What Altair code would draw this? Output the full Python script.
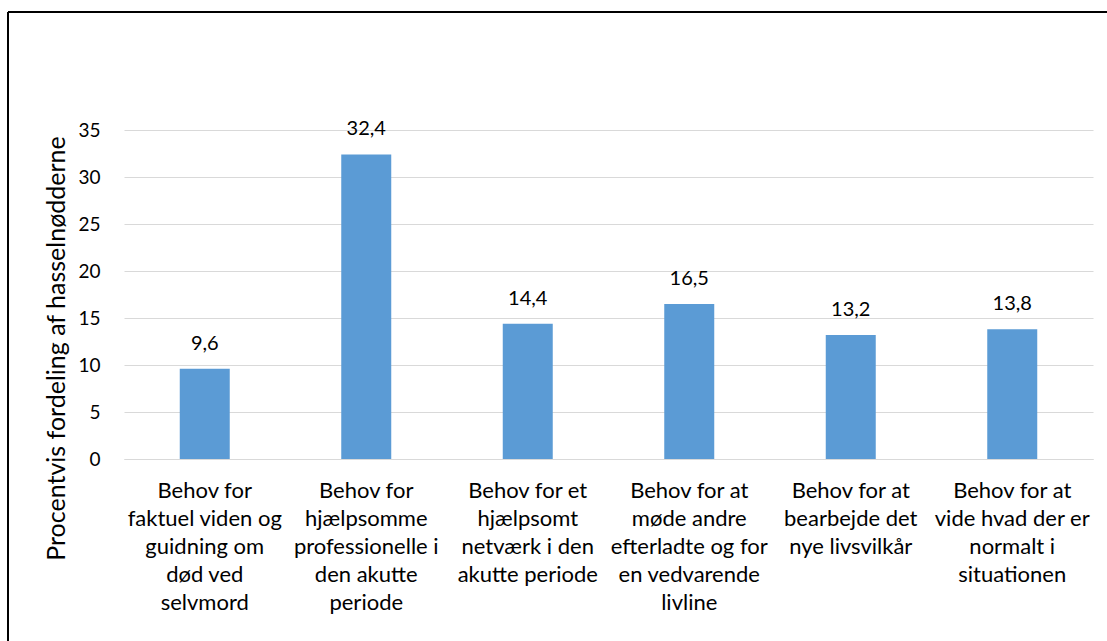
import altair as alt
import pandas as pd

categories = [
    "Behov for\nfaktuel viden og\nguidning om\ndød ved\nselvmord",
    "Behov for\nhjælpsomme\nprofessionelle i\nden akutte\nperiode",
    "Behov for et\nhjælpsomt\nnetværk i den\nakutte periode",
    "Behov for at\nmøde andre\nefterladte og for\nen vedvarende\nlivline",
    "Behov for at\nbearbejde det\nnye livsvilkår",
    "Behov for at\nvide hvad der er\nnormalt i\nsituationen",
]
values = [9.6, 32.4, 14.4, 16.5, 13.2, 13.8]
y_ticks = [0, 5, 10, 15, 20, 25, 30, 35]

df = pd.DataFrame({
    "kategori": categories,
    "procent": values,
    "etiket": [f"{v:.1f}".replace(".", ",") for v in values],
})

FONT = "Lato"

x_enc = alt.X(
    "kategori:N", sort=None, title=None,
    scale=alt.Scale(paddingInner=0, paddingOuter=0),
    axis=alt.Axis(labelExpr="split(datum.label, '\\n')", labelAngle=0, ticks=False,
                  labelPadding=21, labelFontSize=22, labelLineHeight=28,
                  labelColor="#000000", domainColor="#D9D9D9", labelFont=FONT),
)
y_enc = alt.Y(
    "procent:Q", title="Procentvis fordeling af hasselnødderne",
    scale=alt.Scale(domain=[0, 35], nice=False),
    axis=alt.Axis(values=y_ticks, ticks=False, domain=False, labelPadding=24,
                  labelFontSize=19, labelColor="#000000", titleFontSize=25,
                  titleFontWeight="normal", titleColor="#000000",
                  titleX=-60, titleY=218, titleBaseline="alphabetic",
                  gridColor="#D9D9D9", labelFont=FONT, titleFont=FONT),
)

base = alt.Chart(df)
bars = base.mark_bar(size=50, color="#5B9BD5").encode(x=x_enc, y=y_enc)
labels = base.mark_text(baseline="bottom", dy=-15, fontSize=20, font=FONT, color="#000000").encode(
    x=alt.X("kategori:N", sort=None), y="procent:Q", text="etiket:N"
)

frame_top = alt.Chart(df).mark_rule(color="#000000", strokeWidth=2).encode(
    x=alt.value(-116), x2=alt.value(1200), y=alt.value(-118)
)
frame_left = alt.Chart(df).mark_rule(color="#000000", strokeWidth=2).encode(
    x=alt.value(-116), y=alt.value(-118), y2=alt.value(700)
)

chart = (
    alt.layer(bars, labels, frame_top, frame_left)
    .properties(
        width=969, height=329,
        autosize=alt.AutoSizeParams(type="none"),
        padding={"left": 124, "top": 130, "right": 14, "bottom": 182},
        background="#FFFFFF",
    )
    .configure_view(stroke=None)
)

chart.save("out.html", embed_options={"renderer": "svg", "actions": False})
